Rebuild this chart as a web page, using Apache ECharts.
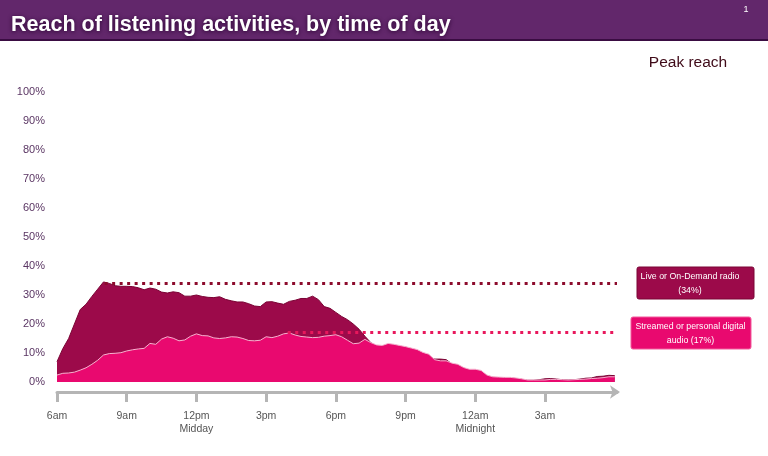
<!DOCTYPE html>
<html>
<head>
<meta charset="utf-8">
<script src="https://cdn.jsdelivr.net/npm/echarts@6/dist/echarts.min.js"></script>
<style>
html,body{margin:0;padding:0;background:#fff;}
#chart{width:768px;height:456px;}
</style>
</head>
<body>
<div id="chart"></div>
<script>
// ---- Data (15-minute steps starting at 6am) ----
const chartTitle = 'Reach of listening activities, by time of day';
const seriesNames = ['Live or On-Demand radio', 'Streamed or personal digital audio'];
const tickLabels = ['6am', '9am', '12pm\nMidday', '3pm', '6pm', '9pm', '12am\nMidnight', '3am'];
const tickHours = [0, 3, 6, 9, 12, 15, 18, 21];
const stepHours = 0.25;

const radioReach = [
  7.0, 11.5, 15.0, 20.0, 25.0, 26.8, 29.5, 32.0,
  34.5, 34.0, 33.2, 33.0, 33.0, 32.9, 32.5, 31.8,
  32.4, 32.0, 31.0, 30.7, 31.1, 30.8, 29.6, 29.6,
  30.0, 29.5, 29.2, 29.1, 29.4, 28.5, 28.0, 27.6,
  27.6, 27.0, 26.2, 26.0, 27.6, 27.7, 27.2, 26.8,
  27.8, 28.2, 28.8, 28.8, 29.6, 28.4, 26.0, 25.4,
  24.0, 22.6, 21.5, 20.0, 18.2, 15.8, 13.6, 12.3,
  12.4, 12.8, 12.7, 12.1, 11.6, 11.3, 10.7, 9.6,
  9.0, 7.9, 7.9, 7.7, 6.2, 5.7, 4.8, 4.0,
  4.0, 3.6, 2.2, 1.6, 1.5, 1.4, 1.4, 1.2,
  0.9, 0.6, 0.6, 0.8, 1.1, 1.2, 1.0, 0.8,
  0.7, 0.8, 1.0, 1.3, 1.4, 1.9, 2.0, 2.3,
  2.2
];
const streamedReach = [
  2.4, 3.0, 3.1, 3.4, 4.1, 4.9, 6.1, 7.5,
  9.3, 9.8, 9.9, 10.1, 10.7, 11.1, 11.4, 11.6,
  13.3, 13.0, 14.8, 15.6, 15.1, 14.2, 14.5, 15.8,
  16.6, 16.0, 15.9, 15.2, 15.0, 15.2, 15.6, 15.5,
  15.0, 14.3, 14.2, 14.4, 15.6, 15.3, 15.8, 16.6,
  16.9, 16.2, 15.7, 15.5, 15.3, 15.4, 15.8, 16.0,
  16.3, 15.6, 14.4, 13.2, 13.4, 14.7, 13.6, 12.8,
  12.6, 13.3, 13.0, 12.6, 12.2, 11.7, 11.2, 10.2,
  9.6, 7.7, 7.3, 7.3, 6.5, 6.1, 5.0, 4.4,
  4.4, 4.0, 2.4, 1.8, 1.7, 1.6, 1.6, 1.4,
  1.1, 0.7, 0.7, 0.7, 0.7, 0.9, 0.9, 0.8,
  0.7, 0.8, 0.9, 1.0, 1.2, 1.3, 1.5, 1.8,
  1.8
];
// Peak reach: value and the hour (after 6am) where the dotted marker starts
const peakValues = [34, 17];
const peakStartHours = [2.05, 9.93];
const axisEndHour = 24.1;

// ---- Build ----
const toPairs = arr => arr.map((v, i) => [i * stepHours, v]);
const colors = {
  radio: '#9c0a4a', radioLine: '#7a0334', radioDot: '#8c0b2c',
  stream: '#e9096f', streamLine: '#f6b3cf', streamDot: '#e8175c'
};
const FONT = 'Liberation Sans, Arial, sans-serif';

const chart = echarts.init(document.getElementById('chart'), null, {renderer: 'canvas'});
chart.setOption({
  animation: false,
  backgroundColor: '#ffffff',
  title: {
    text: chartTitle,
    left: 6, top: 9,
    textStyle: {
      color: '#ffffff', fontSize: 21.5, fontWeight: 'bold',
      fontFamily: FONT,
      textShadowColor: '#2b0533', textShadowBlur: 4, textShadowOffsetX: 0, textShadowOffsetY: 1
    }
  },
  graphic: [
    { type: 'rect', z: -10, shape: {x: 0, y: 0, width: 768, height: 40}, style: {fill: '#62276b'} },
    { type: 'rect', z: -9, shape: {x: 0, y: 39, width: 768, height: 2}, style: {fill: '#3a0c42'} },
    { type: 'text', x: 746, y: 10, style: {text: '1', fill: '#ffffff', font: '9px ' + FONT, align: 'center', verticalAlign: 'middle'} },
    { type: 'text', x: 688, y: 63, style: {text: 'Peak reach', fill: '#3f0a18', font: '15.5px ' + FONT, align: 'center', verticalAlign: 'middle'} },
    { type: 'rect', shape: {x: 637, y: 267, width: 117, height: 32, r: 2}, style: {fill: colors.radio, stroke: '#7a0535', lineWidth: 1} },
    { type: 'text', x: 690, y: 283.5, style: {text: seriesNames[0] + '\n(' + peakValues[0] + '%)', fill: '#ffffff', font: '8.8px ' + FONT, align: 'center', verticalAlign: 'middle', lineHeight: 13.5} },
    { type: 'rect', shape: {x: 631, y: 317, width: 120, height: 32, r: 2}, style: {fill: colors.stream, stroke: '#f25a9c', lineWidth: 1} },
    { type: 'text', x: 690.5, y: 333.5, style: {text: 'Streamed or personal digital\naudio (' + peakValues[1] + '%)', fill: '#ffffff', font: '8.8px ' + FONT, align: 'center', verticalAlign: 'middle', lineHeight: 13.5} }
  ],
  grid: { left: 57, right: 151, top: 92, bottom: 74, containLabel: false },
  xAxis: {
    type: 'value', min: 0, max: axisEndHour,
    offset: 10,
    splitLine: {show: false},
    axisLine: {show: true, onZero: false, lineStyle: {color: '#b5b5b5', width: 3}, symbol: ['none', 'arrow'], symbolSize: [10, 10], symbolOffset: [0, 3]},
    axisTick: {show: true, customValues: tickHours, length: 10, inside: false, lineStyle: {color: '#b5b5b5', width: 3}},
    axisLabel: {
      customValues: tickHours,
      margin: 18, color: '#555555', fontSize: 10.5, lineHeight: 13,
      fontFamily: FONT,
      formatter: v => tickLabels[tickHours.indexOf(v)] || ''
    }
  },
  yAxis: {
    type: 'value', min: 0, max: 100, interval: 10,
    axisLine: {show: false}, axisTick: {show: false}, splitLine: {show: false},
    axisLabel: {
      margin: 12, color: '#5a3563', fontSize: 11,
      fontFamily: FONT,
      formatter: '{value}%'
    }
  },
  series: [
    {
      name: seriesNames[0], type: 'line', data: toPairs(radioReach),
      showSymbol: false, z: 2,
      lineStyle: {color: colors.radioLine, width: 1},
      areaStyle: {color: colors.radio, opacity: 1},
      markLine: {
        silent: true, symbol: ['none', 'none'], label: {show: false},
        lineStyle: {color: colors.radioDot, width: 3, type: [3, 4.5], cap: 'butt'},
        data: [[{coord: [peakStartHours[0], peakValues[0]]}, {coord: [axisEndHour, peakValues[0]]}]]
      }
    },
    {
      name: seriesNames[1], type: 'line', data: toPairs(streamedReach),
      showSymbol: false, z: 3,
      lineStyle: {color: colors.streamLine, width: 1},
      areaStyle: {color: colors.stream, opacity: 1},
      markLine: {
        silent: true, symbol: ['none', 'none'], label: {show: false},
        lineStyle: {color: colors.streamDot, width: 3, type: [3, 4.5], cap: 'butt'},
        data: [[{coord: [peakStartHours[1], peakValues[1]]}, {coord: [axisEndHour, peakValues[1]]}]]
      }
    }
  ]
});
</script>
</body>
</html>
